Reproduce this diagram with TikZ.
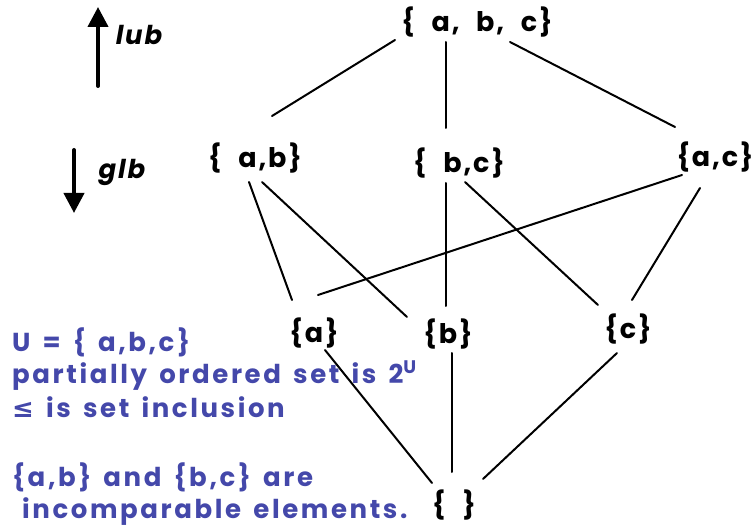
\documentclass[tikz,border=0pt]{standalone}
\usepackage{fontspec}
\setmainfont{Poppins}[LetterSpace=10, WordSpace=1.5]
\newfontfamily\setfont{Poppins}[LetterSpace=7, WordSpace=2.2]
\newfontfamily\symfont{DejaVu Sans}
\usetikzlibrary{arrows.meta,calc}
\definecolor{noteblue}{RGB}{68,72,170}

\begin{document}
\begin{tikzpicture}[x=1pt, y=-1pt, line cap=round, line join=round,
  setnode/.style={font=\setfont\fontsize{27}{30}\selectfont\bfseries, inner sep=0pt},
  hasse/.style={line width=2pt},
  updown/.style={line width=4pt, -{Triangle[width=20pt,length=20pt]}},
  note/.style={font=\fontsize{26}{30}\selectfont\bfseries, text=noteblue, anchor=base west, inner sep=0pt}]
\useasboundingbox (0,0) rectangle (755,529);

% the lattice 2^U
\node[setnode] (abc) at (477,22) {\{ a, b, c\}};
\node[setnode] (ab) at (255,158) {\{ a,b\}};
\node[setnode] (bc) at (459,163) {\{ b,c\}};
\node[setnode] (ac) at (715,157) {\{a,c\}};
\node[setnode] (a) at (314,333) {\{a\}};
\node[setnode] (b) at (448,334) {\{b\}};
\node[setnode] (c) at (628,329) {\{c\}};
\node[setnode] (empty) at (454,505) {\{ \}};

\draw[hasse] ($(abc)+(-82,18)$) -- ($(ab)+(17,-42)$);
\draw[hasse] ($(abc)+(-31,20)$) -- ($(bc)+(-13,-35)$);
\draw[hasse] ($(abc)+(33,20)$) -- ($(ac)+(-40,-30)$);
\draw[hasse] ($(ab)+(-6,24)$) -- ($(a)+(-22,-33)$);
\draw[hasse] ($(ab)+(7,24)$) -- ($(b)+(-41,-17)$);
\draw[hasse] ($(bc)+(-13,20)$) -- ($(b)+(-2,-28)$);
\draw[hasse] ($(bc)+(6,19)$) -- ($(c)+(-30,-24)$);
\draw[hasse] ($(ac)+(-33,18)$) -- ($(a)+(4,-38)$);
\draw[hasse] ($(ac)+(-15,31)$) -- ($(c)+(4,-29)$);
\draw[hasse] ($(a)+(11,17)$) -- ($(empty)+(-22,-22)$);
\draw[hasse] ($(b)+(4,19)$) -- ($(empty)+(-2,-33)$);
\draw[hasse] ($(c)+(-11,24)$) -- ($(empty)+(29,-26)$);

% lub / glb
\node[setnode, font=\setfont\fontsize{26}{28}\selectfont\bfseries\itshape] (lub) at (139,35) {lub};
\node[setnode, font=\setfont\fontsize{26}{28}\selectfont\bfseries\itshape] (glb) at (122,172) {glb};
\coordinate (luba) at (98,86);
\coordinate (lubb) at (98,7);
\coordinate (glba) at (74,150);
\coordinate (glbb) at (74,213);
\draw[updown] (luba) -- (lubb);
\draw[updown] (glba) -- (glbb);

% notes
\node[note] (u) at (12,352) {U = \{ a,b,c\}};
\node[note] (po) at (12,383) {partially ordered set is 2\textsuperscript{U}};
\node[note] (le) at (12,417) {{\symfont\bfseries ≤} is set inclusion};
\node[note] (cmp) at (12,486) {\{a,b\} and \{b,c\} are};
\node[note] (inc) at (22,518) {incomparable elements.};

\end{tikzpicture}
\end{document}
